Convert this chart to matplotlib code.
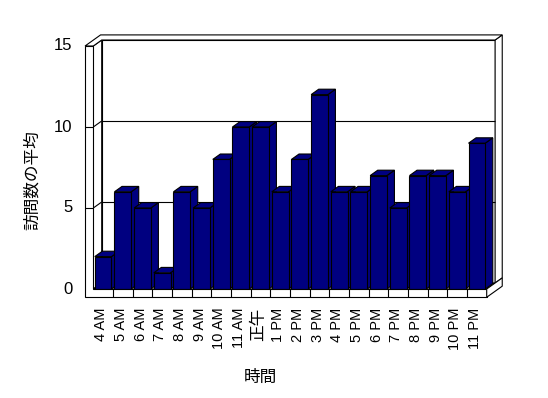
import matplotlib
matplotlib.use('Agg')
import matplotlib.pyplot as plt
from matplotlib.patches import Polygon

# data
hours = ['4 AM', '5 AM', '6 AM', '7 AM', '8 AM', '9 AM', '10 AM', '11 AM', '正午',
         '1 PM', '2 PM', '3 PM', '4 PM', '5 PM', '6 PM', '7 PM', '8 PM', '9 PM',
         '10 PM', '11 PM']
avg_visits = [2, 6, 5, 1, 6, 5, 8, 10, 10, 6, 8, 12, 6, 6, 7, 5, 7, 7, 6, 9]
y_ticks = [0, 5, 10, 15]

plt.rcParams['font.family'] = ['Liberation Sans', 'Noto Sans CJK JP', 'DejaVu Sans']

fig = plt.figure(figsize=(5.48, 3.98), dpi=100)
ax = fig.add_axes([93.3 / 548, 1 - 289 / 398, 393.4 / 548, 243 / 398])
n = len(hours)
ymax = y_ticks[-1]
ax.set_xlim(0, n)
ax.set_ylim(0, ymax)
ax.axis('off')

# fake 3d geometry (data units)
Dx, Dy = 0.427, 0.37      # depth vector front -> back wall
t = 0.85                  # back wall thickness (fraction of depth)
wall = 0.42               # left wall thickness
floor = 0.51              # floor thickness
zb = 0.9                  # bar depth
bw = 0.85                 # bar width
navy = '#000080'
lw = 0.8


def proj(x, y, z):
    return (x + z * Dx, y + z * Dy)


def face(pts, fc='white', z=1):
    ax.add_patch(Polygon([proj(*p) for p in pts], closed=True, facecolor=fc,
                         edgecolor='black', linewidth=lw, zorder=z, clip_on=False))


def line(p1, p2, z=2):
    a, b = proj(*p1), proj(*p2)
    ax.plot([a[0], b[0]], [a[1], b[1]], color='black', lw=lw, zorder=z,
            clip_on=False, solid_capstyle='butt')


# walls and floor
face([(0, 0, 1), (n, 0, 1), (n, ymax, 1), (0, ymax, 1)])
face([(n, 0, 1), (n, 0, 1 + t), (n, ymax, 1 + t), (n, ymax, 1)])
face([(0, 0, 0), (0, 0, 1), (0, ymax, 1), (0, ymax, 0)])
face([(0, 0, 0), (n, 0, 0), (n, 0, 1), (0, 0, 1)])
face([(-wall, ymax, 0), (0, ymax, 0), (0, ymax, 1), (n, ymax, 1),
      (n, ymax, 1 + t), (-wall, ymax, 1 + t)], z=3)

# gridlines
for v in y_ticks[1:-1]:
    line((0, v, 1), (n, v, 1))
    line((0, v, 0), (0, v, 1))

# bars, left to right so each one hides the side of the previous
for i, h in enumerate(avg_visits):
    x0 = i + (1 - bw) / 2
    x1 = x0 + bw
    face([(x1, 0, 0), (x1, 0, zb), (x1, h, zb), (x1, h, 0)], fc=navy, z=10 + 2 * i)
    face([(x0, h, 0), (x1, h, 0), (x1, h, zb), (x0, h, zb)], fc=navy, z=10 + 2 * i)

bars = ax.bar([i + 0.5 for i in range(n)], avg_visits, bw, color=navy,
              edgecolor='black', linewidth=lw)
for i, b in enumerate(bars):
    b.set_zorder(11 + 2 * i)

# front faces of left wall + floor
ax.add_patch(Polygon([(-wall, -floor), (n, -floor), (n, 0), (0, 0), (0, ymax), (-wall, ymax)],
                     closed=True, facecolor='white', edgecolor='black', linewidth=lw,
                     zorder=60, clip_on=False))
face([(n, -floor, 0), (n, -floor, 1 + t), (n, 0, 1 + t), (n, 0, 0)], z=60)
for i in range(1, n):
    line((i, -floor, 0), (i, 0, 0), z=61)
for v in y_ticks[1:-1]:
    line((-wall, v, 0), (0, v, 0), z=61)

# tick labels
for v in y_ticks:
    ax.text(-1.05, v, str(v), ha='right', va='center', fontsize=12)
for i, lab in enumerate(hours):
    fs = 12 if lab == '正午' else 10.5
    ax.text(i + 0.4, -1.15, lab, rotation=90, ha='center', va='top', fontsize=fs)

fig.text(260 / 548, 1 - 377 / 398, '時間', ha='center', va='center', fontsize=12,
         family=['Noto Sans CJK JP'])
fig.text(32 / 548, 1 - 180 / 398, '訪問数の平均', ha='center', va='center', rotation=90,
         fontsize=12, family=['Noto Sans CJK JP'])

fig.savefig('out.png', dpi=100)
